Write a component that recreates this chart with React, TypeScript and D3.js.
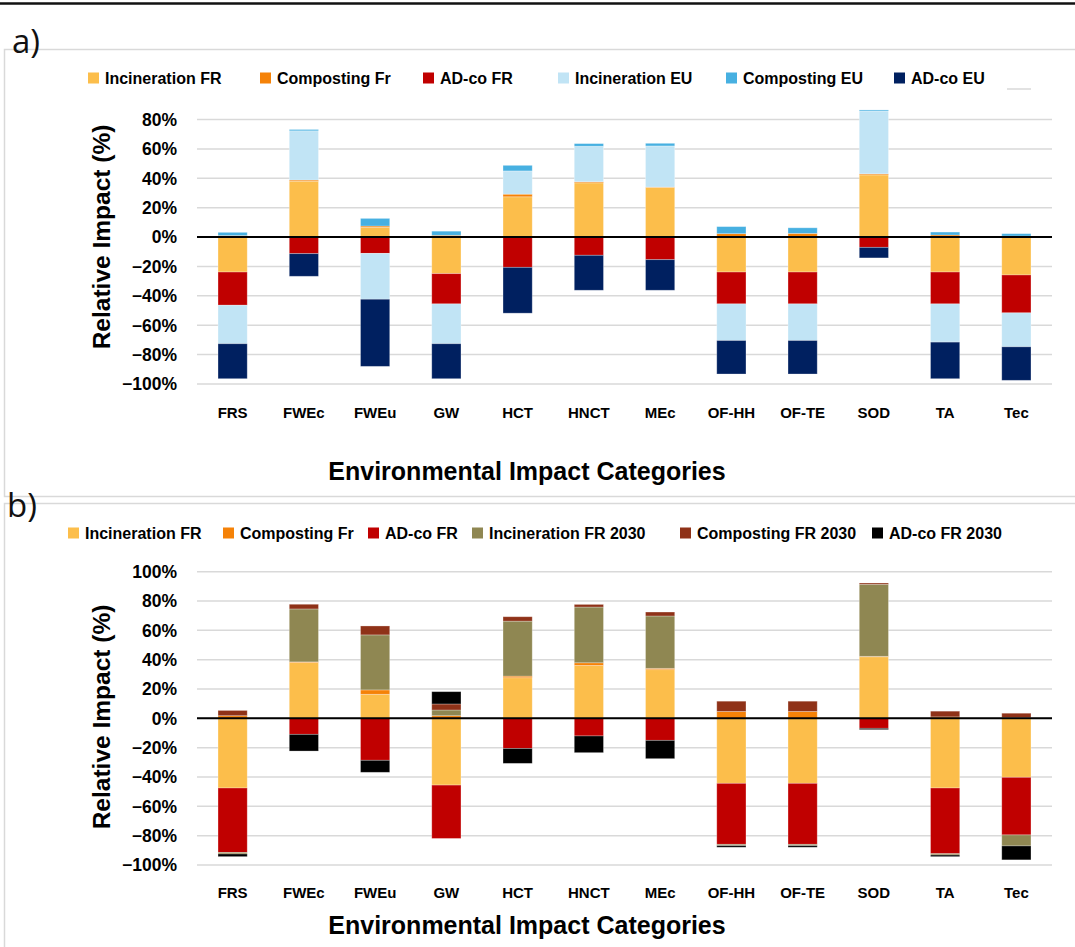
import React from "react";
import * as d3 from "d3";

const CATEGORIES = ["FRS", "FWEc", "FWEu", "GW", "HCT", "HNCT", "MEc", "OF-HH", "OF-TE", "SOD", "TA", "Tec"];

// panel a) France vs EU
const incinFR_a = [-23.8, 38.0, 6.6, -24.9, 27.4, 36.9, 33.7, -23.8, -23.8, 42.3, -23.8, -25.8];
const compFR_a = [1.0, 0.8, 0.9, 1.2, 1.8, 0.7, 0.3, 2.3, 2.5, 0.7, 1.4, 0.7];
const adcoFR_a = [-22.6, -11.3, -11.1, -20.6, -20.6, -12.4, -15.4, -21.7, -21.7, -7.0, -21.7, -25.8];
const incinEU_a = [-26.2, 33.5, -31.2, -27.1, 15.8, 24.2, 28.0, -24.9, -24.9, 42.8, -26.0, -23.1];
const compEU_a = [2.2, 0.9, 5.2, 2.8, 3.8, 1.8, 1.8, 4.8, 3.8, 0.7, 2.0, 1.6];
const adcoEU_a = [-23.8, -15.4, -45.7, -23.8, -31.2, -23.8, -20.8, -22.8, -22.8, -7.2, -24.9, -22.8];

// panel b) France today vs 2030
const incinFR_b = [-47.5, 38.0, 16.4, -45.5, 27.7, 36.1, 33.2, -44.3, -44.3, 42.0, -47.5, -40.2];
const compFR_b = [1.8, 0.5, 3.0, 1.8, 1.1, 1.8, 0.9, 4.7, 4.7, 0.3, 1.0, 0.5];
const adcoFR_b = [-43.9, -10.9, -28.6, -36.4, -20.5, -12.0, -15.0, -41.6, -41.6, -6.8, -44.8, -39.3];
const incin2030_b = [-1.1, 36.1, 37.5, 3.9, 37.5, 38.0, 35.7, -0.9, -0.9, 49.1, -0.9, -7.5];
const comp2030_b = [3.6, 3.2, 6.1, 4.1, 3.0, 1.8, 2.7, 7.0, 7.0, 0.9, 3.9, 3.0];
const adco2030_b = [-1.8, -11.4, -8.2, 8.4, -10.2, -11.4, -12.5, -1.1, -1.1, -0.9, -1.1, -9.5];

const TICKS_A = [-100, -80, -60, -40, -20, 0, 20, 40, 60, 80];
const TICKS_B = [-100, -80, -60, -40, -20, 0, 20, 40, 60, 80, 100];

interface Series {
  name: string;
  color: string;
  values: number[];
}

const SERIES_A: Series[] = [
  { name: "Incineration FR", color: "#FCBE4B", values: incinFR_a },
  { name: "Composting Fr", color: "#F58208", values: compFR_a },
  { name: "AD-co FR", color: "#C00000", values: adcoFR_a },
  { name: "Incineration EU", color: "#C1E4F5", values: incinEU_a },
  { name: "Composting EU", color: "#47B0E1", values: compEU_a },
  { name: "AD-co EU", color: "#002060", values: adcoEU_a },
];

const SERIES_B: Series[] = [
  { name: "Incineration FR", color: "#FCBE4B", values: incinFR_b },
  { name: "Composting Fr", color: "#F58208", values: compFR_b },
  { name: "AD-co FR", color: "#C00000", values: adcoFR_b },
  { name: "Incineration FR 2030", color: "#8F8752", values: incin2030_b },
  { name: "Composting FR 2030", color: "#8F3218", values: comp2030_b },
  { name: "AD-co FR 2030", color: "#000000", values: adco2030_b },
];

const FONT = "'Liberation Sans', Arial, sans-serif";

function Panel({
  series,
  ticks,
  yRange,
  legendY,
  legendX,
  labelY,
  titleY,
  yTitleY,
}: {
  series: Series[];
  ticks: number[];
  yRange: [number, number];
  legendY: number;
  legendX: number[];
  labelY: number;
  titleY: number;
  yTitleY: number;
}) {
  const x = d3.scaleBand<string>().domain(CATEGORIES).range([197, 1052]).paddingInner(0.59).paddingOuter(0.295);
  const y = d3
    .scaleLinear()
    .domain([ticks[0], ticks[ticks.length - 1]])
    .range(yRange);

  const rows = CATEGORIES.map((c, i) => {
    const r: Record<string, any> = { cat: c };
    series.forEach((s) => (r[s.name] = s.values[i]));
    return r;
  });
  const stacked = d3
    .stack<Record<string, any>>()
    .keys(series.map((s) => s.name))
    .offset(d3.stackOffsetDiverging)(rows);

  return (
    <g>
      {ticks.map((t) => (
        <g key={t}>
          <line x1={197} x2={1052} y1={y(t)} y2={y(t)} stroke="#D9D9D9" strokeWidth={1.5} />
          <text
            x={177}
            y={y(t)}
            dy="0.36em"
            textAnchor="end"
            fontFamily={FONT}
            fontWeight="bold"
            fontSize={17.5}
            fill="#000"
          >
            {d3.format(".0%")(t / 100)}
          </text>
        </g>
      ))}
      {stacked.map((layer, si) => (
        <g key={layer.key} fill={series[si].color}>
          {layer.map((d, i) => {
            const y0 = y(Math.max(d[0], d[1]));
            const y1 = y(Math.min(d[0], d[1]));
            return (
              <rect
                key={i}
                x={x(CATEGORIES[i])}
                width={x.bandwidth()}
                y={y0}
                height={Math.max(0, y1 - y0)}
                stroke="#ffffff"
                strokeOpacity={0.35}
                strokeWidth={0.8}
              />
            );
          })}
        </g>
      ))}
      <line x1={197} x2={1052} y1={y(0)} y2={y(0)} stroke="#000" strokeWidth={2} />
      {CATEGORIES.map((c) => (
        <text
          key={c}
          x={(x(c) ?? 0) + x.bandwidth() / 2}
          y={labelY}
          textAnchor="middle"
          fontFamily={FONT}
          fontWeight="bold"
          fontSize={15}
        >
          {c}
        </text>
      ))}
      <text x={527} y={titleY} textAnchor="middle" fontFamily={FONT} fontWeight="bold" fontSize={25}>
        Environmental Impact Categories
      </text>
      <text
        transform={`translate(110,${yTitleY}) rotate(-90)`}
        textAnchor="middle"
        fontFamily={FONT}
        fontWeight="bold"
        fontSize={24.5}
      >
        Relative Impact (%)
      </text>
      {series.map((s, i) => (
        <g key={s.name} transform={`translate(${legendX[i]},${legendY})`}>
          <rect x={0} y={-5.5} width={11} height={11} fill={s.color} />
          <text x={17} y={0} dy="0.36em" fontFamily={FONT} fontWeight="bold" fontSize={16}>
            {s.name}
          </text>
        </g>
      ))}
    </g>
  );
}

export default function App() {
  return (
    <div style={{ position: "absolute", left: 0, top: 0, background: "#fff" }}>
      <svg width={1075} height={947} style={{ display: "block" }}>
        <rect width={1075} height={947} fill="#fff" />
        <line x1={0} x2={1075} y1={3.5} y2={3.5} stroke="#111" strokeWidth={2.5} />
        <rect x={4.5} y={49.5} width={1080} height={447} fill="none" stroke="#D9D9D9" strokeWidth={1.5} />
        <rect x={4.5} y={503.5} width={1080} height={460} fill="none" stroke="#D9D9D9" strokeWidth={1.5} />
        <line x1={1007} x2={1031} y1={89} y2={89} stroke="#D9D9D9" strokeWidth={1.5} />
        <text x={12} y={53} fontFamily="'Open Sans', sans-serif" fontSize={33} fill="#111">
          a)
        </text>
        <text x={7} y={517} fontFamily="'Open Sans', sans-serif" fontSize={33} fill="#111">
          b)
        </text>
        <Panel
          series={SERIES_A}
          ticks={TICKS_A}
          yRange={[384, 119.5]}
          legendY={78}
          legendX={[88, 260, 423, 558, 726, 894]}
          labelY={418}
          titleY={480}
          yTitleY={237}
        />
        <Panel
          series={SERIES_B}
          ticks={TICKS_B}
          yRange={[865, 571.7]}
          legendY={533}
          legendX={[68, 223, 368, 472, 680, 872]}
          labelY={898}
          titleY={934}
          yTitleY={717}
        />
      </svg>
    </div>
  );
}
